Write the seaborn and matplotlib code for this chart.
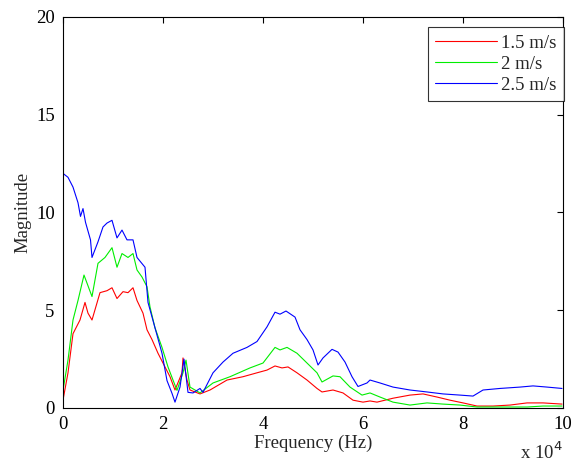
import numpy as np
import pandas as pd
import matplotlib
matplotlib.use('Agg')
import matplotlib.pyplot as plt
import seaborn as sns

# frequency in units of 1e4 Hz, magnitude
x_red = [0, 0.1, 0.2, 0.34, 0.44, 0.5, 0.58, 0.74, 0.88, 0.98, 1.08, 1.2, 1.3, 1.4, 1.48,
         1.6, 1.68, 1.78, 1.9, 2.0, 2.14, 2.24, 2.38, 2.4, 2.48, 2.54, 2.74, 2.94, 3.28,
         3.6, 3.88, 4.08, 4.24, 4.38, 4.5, 4.68, 4.88, 5.08, 5.18, 5.4, 5.6, 5.8, 6.0,
         6.14, 6.28, 6.6, 6.94, 7.2, 7.48, 7.74, 8.0, 8.28, 8.6, 8.94, 9.28, 9.6, 9.98]
y_red = [0.4, 1.8, 3.8, 4.5, 5.4, 4.85, 4.5, 5.9, 6.0, 6.15, 5.6, 5.95, 5.9, 6.15, 5.5,
         4.85, 4.0, 3.5, 2.8, 2.3, 1.6, 0.92, 1.8, 2.56, 1.43, 0.92, 0.72, 0.92, 1.43,
         1.6, 1.8, 1.94, 2.15, 2.05, 2.1, 1.8, 1.43, 1.0, 0.82, 0.92, 0.77, 0.4, 0.3,
         0.36, 0.3, 0.5, 0.66, 0.72, 0.56, 0.4, 0.26, 0.1, 0.1, 0.15, 0.26, 0.26, 0.2]

x_green = [0, 0.1, 0.2, 0.3, 0.42, 0.58, 0.7, 0.84, 0.98, 1.08, 1.18, 1.3, 1.4, 1.48,
           1.58, 1.68, 1.74, 1.84, 1.98, 2.1, 2.2, 2.28, 2.4, 2.46, 2.54, 2.74, 3.0,
           3.34, 3.74, 4.0, 4.24, 4.34, 4.48, 4.68, 4.88, 5.08, 5.18, 5.4, 5.54, 5.74,
           5.98, 6.14, 6.34, 6.6, 6.94, 7.28, 7.6, 7.94, 8.28, 8.6, 8.94, 9.28, 9.6, 9.98]
y_green = [0.9, 2.45, 4.5, 5.5, 6.8, 5.7, 7.4, 7.7, 8.2, 7.2, 7.9, 7.7, 7.9, 7.06,
           6.7, 6.2, 5.17, 4.1, 3.1, 2.1, 1.43, 0.9, 1.8, 2.45, 1.07, 0.77, 1.28,
           1.6, 2.05, 2.3, 3.1, 2.97, 3.1, 2.8, 2.3, 1.8, 1.33, 1.64, 1.6, 1.07,
           0.66, 0.77, 0.56, 0.3, 0.15, 0.26, 0.2, 0.15, 0.05, 0.05, 0.05, 0.05, 0.1, 0.1]

x_blue = [0, 0.1, 0.2, 0.3, 0.35, 0.4, 0.45, 0.55, 0.58, 0.7, 0.8, 0.88, 0.98, 1.08,
          1.18, 1.28, 1.4, 1.48, 1.64, 1.7, 1.84, 1.98, 2.08, 2.18, 2.24, 2.34, 2.42,
          2.5, 2.6, 2.74, 2.8, 3.0, 3.2, 3.4, 3.68, 3.88, 4.08, 4.24, 4.34, 4.46, 4.64,
          4.74, 4.88, 5.0, 5.1, 5.2, 5.38, 5.5, 5.64, 5.78, 5.9, 6.08, 6.14, 6.34, 6.6,
          6.94, 7.28, 7.6, 7.94, 8.2, 8.4, 8.74, 9.14, 9.4, 9.68, 9.98]
y_blue = [12.0, 11.8, 11.3, 10.5, 9.8, 10.2, 9.5, 8.6, 7.7, 8.5, 9.26, 9.46, 9.6, 8.7,
          9.1, 8.6, 8.6, 7.7, 7.2, 5.4, 4.1, 2.8, 1.4, 0.75, 0.3, 1.07, 2.5,
          0.8, 0.77, 1.0, 0.8, 1.8, 2.35, 2.8, 3.1, 3.4, 4.15, 4.9, 4.8, 4.96, 4.65,
          4.0, 3.5, 2.97, 2.2, 2.56, 3.0, 2.86, 2.35, 1.6, 1.1, 1.28, 1.43, 1.28, 1.07,
          0.92, 0.82, 0.72, 0.66, 0.61, 0.92, 1.0, 1.07, 1.13, 1.07, 1.0]

labels = ['1.5 m/s', '2 m/s', '2.5 m/s']
colors = ['#ff0000', '#00ee00', '#0000ff']

df = pd.concat([
    pd.DataFrame({'freq': x_red, 'mag': y_red, 'speed': labels[0]}),
    pd.DataFrame({'freq': x_green, 'mag': y_green, 'speed': labels[1]}),
    pd.DataFrame({'freq': x_blue, 'mag': y_blue, 'speed': labels[2]}),
], ignore_index=True)

sns.set_style('white')
plt.rcParams['font.family'] = ['Liberation Serif', 'DejaVu Serif']
plt.rcParams['font.size'] = 13.5

fig = plt.figure(figsize=(5.79, 4.63), dpi=100)
ax = fig.add_axes([0.1088, 0.1188, 0.8636, 0.8445])

sns.lineplot(data=df, x='freq', y='mag', hue='speed', hue_order=labels,
             palette=colors, sort=False, estimator=None, linewidth=0.8, ax=ax)

ax.set_xlim(0, 10)
ax.set_ylim(0, 20)
ax.set_xticks([0, 2, 4, 6, 8, 10])
ax.set_yticks([0, 5, 10, 15, 20])
ax.set_xlabel('Frequency (Hz)', labelpad=1)
ax.set_ylabel('Magnitude', labelpad=3)
ax.tick_params(direction='in', length=4, width=0.8, top=True, right=True,
               colors='black', labelsize=13.5, pad=6)
for s in ax.spines.values():
    s.set_color('black')
    s.set_linewidth(0.8)

ax.text(1.0, -0.085, r'x 10$^{4}$', transform=ax.transAxes, ha='right', va='top',
        fontsize=13.5)

leg = ax.legend(loc='upper right', frameon=True, fancybox=False, handlelength=3.3,
                borderpad=0.4, labelspacing=0.2, handletextpad=0.2,
                bbox_to_anchor=(1.02, 0.998))
leg.get_frame().set_edgecolor('black')
leg.get_frame().set_linewidth(0.8)
leg.set_title(None)

fig.savefig('out.png', dpi=100)
